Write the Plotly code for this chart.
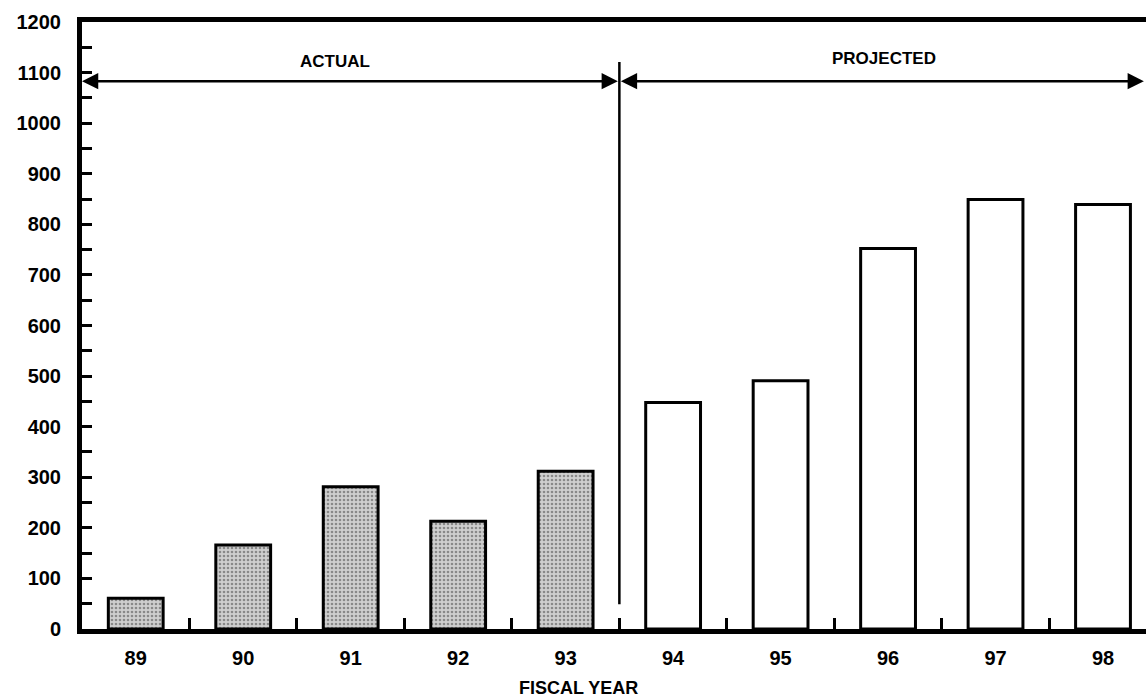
import plotly.graph_objects as go

# Fiscal years and values
years = ["89", "90", "91", "92", "93", "94", "95", "96", "97", "98"]
values = [61, 166, 281, 213, 312, 448, 491, 752, 849, 839]
status = ["actual"] * 5 + ["projected"] * 5

y_ticks = list(range(0, 1201, 100))

FONT = "Liberation Sans, Arial, Helvetica, sans-serif"

fills = ["#cfcfcf" if s == "actual" else "white" for s in status]
shapes_pat = ["." if s == "actual" else "" for s in status]

fig = go.Figure()
fig.add_trace(go.Bar(
    x=years,
    y=values,
    width=0.51,
    marker=dict(
        color=fills,
        line=dict(color="black", width=3),
        pattern=dict(shape=shapes_pat, fgcolor="#5e5e5e", bgcolor="#d4d4d4",
                     size=4, solidity=0.35, fillmode="overlay"),
    ),
    hoverinfo="x+y",
))

split = 4.5          # boundary between actual and projected years
arrow_y = 1083
right_end = 9.38

# Divider between actual and projected
fig.add_shape(type="line", xref="x", yref="y", x0=split, x1=split, y0=49, y1=1121,
              line=dict(color="black", width=2.5))

arrow_common = dict(xref="x", yref="y", axref="x", ayref="y", text="", showarrow=True,
                    arrowhead=2, arrowsize=1.3, arrowwidth=2.5, arrowcolor="black",
                    arrowside="end+start")
fig.add_annotation(x=-0.5, y=arrow_y, ax=split, ay=arrow_y, **arrow_common)
fig.add_annotation(x=right_end, y=arrow_y, ax=split, ay=arrow_y, **arrow_common)

label_font = dict(family=FONT, size=17, color="black", weight="bold")
fig.add_annotation(x=1.85, y=1121, xref="x", yref="y", text="ACTUAL", showarrow=False,
                   font=label_font)
fig.add_annotation(x=6.96, y=1127, xref="x", yref="y", text="PROJECTED", showarrow=False,
                   font=label_font)
fig.add_annotation(x=0.467, y=-0.097, xref="paper", yref="paper", text="FISCAL YEAR",
                   showarrow=False, yanchor="middle",
                   font=dict(family=FONT, size=18, color="black", weight="bold"))

fig.update_layout(
    width=1146, height=699,
    margin=dict(l=82, r=0, t=22, b=70),
    paper_bgcolor="white", plot_bgcolor="white",
    showlegend=False,
    font=dict(family=FONT, color="black"),
    bargap=0.49,
)
fig.update_xaxes(
    type="category",
    range=[-0.5, 9.40],
    showline=True, linecolor="black", linewidth=5, mirror=True,
    ticks="inside", tickson="boundaries", ticklen=11, tickwidth=3, tickcolor="black",
    ticklabelstandoff=7,
    tickfont=dict(family=FONT, size=20, color="black", weight="bold"),
    showgrid=False, zeroline=False,
)
fig.update_yaxes(
    range=[0, 1200],
    tickvals=y_ticks, ticktext=[str(v) for v in y_ticks],
    showline=True, linecolor="black", linewidth=5,
    ticks="inside", ticklen=10, tickwidth=3, tickcolor="black",
    minor=dict(dtick=50, tick0=0, ticks="inside", ticklen=10, tickwidth=3, tickcolor="black"),
    ticklabelstandoff=12,
    tickfont=dict(family=FONT, size=20, color="black", weight="bold"),
    showgrid=False, zeroline=False,
)

fig.write_html("out.html")
